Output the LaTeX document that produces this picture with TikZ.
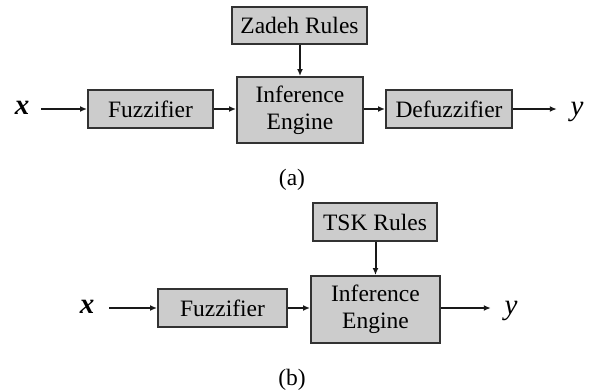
\documentclass[tikz,border=0pt]{standalone}
\usepackage{fontspec}
\setmainfont{Liberation Serif}
\usetikzlibrary{arrows.meta}
\definecolor{boxfill}{RGB}{204,204,204}
\definecolor{boxline}{RGB}{50,50,50}
\begin{document}
\begin{tikzpicture}[x=1pt,y=-1pt,
  blk/.style={draw=boxline,line width=2pt,fill=boxfill,inner sep=0pt,align=center,
    font=\fontsize{23.5}{27}\selectfont},
  lbl/.style={inner sep=0pt,anchor=base,font=\fontsize{29}{30}\selectfont},
  captxt/.style={inner sep=0pt,font=\fontsize{23.5}{27}\selectfont},
  arr/.style={line width=2pt,draw=black!90,-{Latex[length=7pt,width=6pt]}}]
\useasboundingbox (0,0) rectangle (592,391);
% (a)
\node[blk,minimum width=135pt,minimum height=37pt] (zadeh) at (299.5,25.5) {Zadeh Rules};
\node[blk,minimum width=126pt,minimum height=66pt] (infA) at (300,110) {Inference\\Engine};
\node[blk,minimum width=125pt,minimum height=38pt] (fuzA) at (150.5,109) {Fuzzifier};
\node[blk,minimum width=126pt,minimum height=38pt] (defA) at (449,109) {Defuzzifier};
\node[lbl,minimum width=38pt] (xA) at (22,114) {\textbf{\textit{x}}};
\node[lbl,minimum width=40pt] (yA) at (577,115) {\textit{y}};
\node[captxt] (capA) at (292,180) {(a)};
\draw[arr] (xA.east |- fuzA) -- (fuzA);
\draw[arr] (fuzA) -- (fuzA -| infA.west);
\draw[arr] (infA.east |- defA) -- (defA);
\draw[arr] (defA) -- (defA -| yA.west);
\draw[arr] (zadeh.south -| infA.north) -- (infA.north);
% (b)
\node[blk,minimum width=124pt,minimum height=38pt] (tsk) at (375,222) {TSK Rules};
\node[blk,minimum width=129pt,minimum height=67pt] (infB) at (375.5,309.5) {Inference\\Engine};
\node[blk,minimum width=129pt,minimum height=38pt] (fuzB) at (222.5,308) {Fuzzifier};
\node[lbl,minimum width=44pt] (xB) at (87,313) {\textbf{\textit{x}}};
\node[lbl,minimum width=40pt] (yB) at (511,314) {\textit{y}};
\node[captxt] (capB) at (292,380) {(b)};
\draw[arr] (xB.east |- fuzB) -- (fuzB);
\draw[arr] (fuzB) -- (fuzB -| infB.west);
\draw[arr] (infB.east |- fuzB) -- (fuzB -| yB.west);
\draw[arr] (tsk.south -| infB.north) -- (infB.north);
\end{tikzpicture}
\end{document}
